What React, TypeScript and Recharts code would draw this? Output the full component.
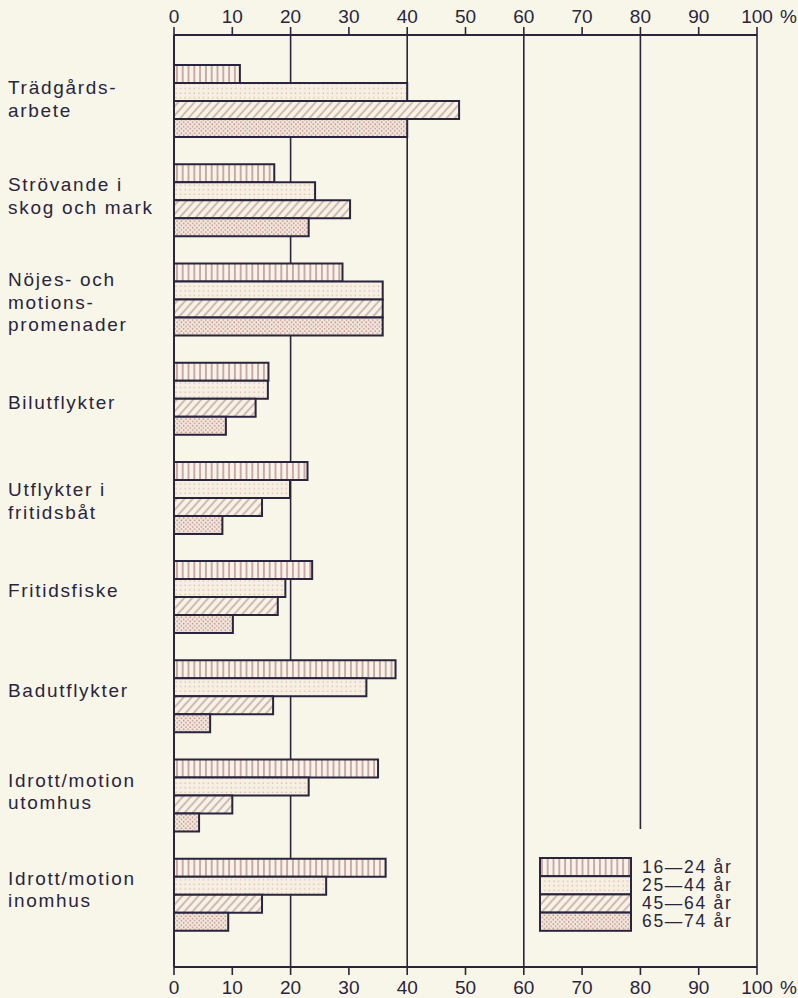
import React from "react";
import { BarChart, Bar, XAxis, YAxis, ReferenceLine, Legend } from "recharts";

const categories = [
  "Trädgårds-\narbete",
  "Strövande i\nskog och mark",
  "Nöjes- och\nmotions-\npromenader",
  "Bilutflykter",
  "Utflykter i\nfritidsbåt",
  "Fritidsfiske",
  "Badutflykter",
  "Idrott/motion\nutomhus",
  "Idrott/motion\ninomhus",
];
const age16_24 = [11.3, 17.2, 28.9, 16.2, 22.9, 23.7, 38.0, 35.0, 36.3];
const age25_44 = [40.0, 24.2, 35.8, 16.1, 19.9, 19.1, 33.0, 23.1, 26.1];
const age45_64 = [48.9, 30.2, 35.8, 14.0, 15.1, 17.8, 17.0, 10.0, 15.1];
const age65_74 = [40.0, 23.1, 35.8, 8.9, 8.3, 10.1, 6.2, 4.3, 9.3];
const seriesNames = ["16—24 år", "25—44 år", "45—64 år", "65—74 år"];
const seriesKeys = ["a", "b", "c", "d"];
const xTicks = [0, 10, 20, 30, 40, 50, 60, 70, 80, 90, 100];
const fullGridValues = [20, 40, 60, 100];
const partialGridValue = 80;

const data = categories.map((name, i) => ({
  name,
  a: age16_24[i],
  b: age25_44[i],
  c: age45_64[i],
  d: age65_74[i],
}));

const INK = "#29253d";
const BG = "#f8f6e9";
const FONT = "'Liberation Sans', Arial, Helvetica, sans-serif";
const patternIds = ["pVert", "pFine", "pDiag", "pDense"];
// small vertical nudges of the category labels (layout only)
const labelNudge = [-4, -6, 1, 2, 1, -9, -8, -6, -7];

const XTick = (props: any) => {
  const { x, y, payload, orientation } = props;
  const top = orientation === "top";
  return (
    <g>
      <text
        x={x}
        y={y}
        dy={top ? 0 : "0.72em"}
        textAnchor="middle"
        fontFamily={FONT}
        fontSize={19}
        fill={INK}
      >
        {payload.value}
      </text>
      {payload.value === 100 ? (
        <text
          x={x + 23}
          y={y}
          dy={top ? 0 : "0.72em"}
          textAnchor="start"
          fontFamily={FONT}
          fontSize={19}
          fill={INK}
        >
          %
        </text>
      ) : null}
    </g>
  );
};

const YTick = (props: any) => {
  const { y, payload, index } = props;
  const lines = String(payload.value).split("\n");
  const lh = 22.5;
  const idx = categories.indexOf(String(payload.value));
  const nudge = labelNudge[idx >= 0 ? idx : index] || 0;
  const center = y + 2 + nudge;
  const first = center - ((lines.length - 1) * lh) / 2 + 6.8;
  return (
    <g>
      {lines.map((l, i) => (
        <text
          key={i}
          x={8}
          y={first + i * lh}
          textAnchor="start"
          fontFamily={FONT}
          fontSize={19}
          fill={INK}
          style={{ letterSpacing: "1.7px" }}
        >
          {l}
        </text>
      ))}
    </g>
  );
};

const LegendBox = () => {
  const rowH = 18.2;
  return (
    <svg width={250} height={80} style={{ overflow: "visible" }}>
      {seriesNames.map((n, i) => (
        <g key={n}>
          <rect
            x={1}
            y={1 + i * rowH}
            width={91}
            height={rowH}
            fill={`url(#${patternIds[i]})`}
            stroke={INK}
            strokeWidth={2}
          />
          <text
            x={103}
            y={1 + i * rowH + 14.5}
            fontFamily={FONT}
            fontSize={17.5}
            fill={INK}
            style={{ letterSpacing: "1.7px" }}
          >
            {n}
          </text>
        </g>
      ))}
    </svg>
  );
};

const PartialLine = (p: any) => {
  const top = Math.min(p.y1, p.y2);
  const bottom = Math.max(p.y1, p.y2);
  return (
    <line
      x1={p.x1}
      x2={p.x2}
      y1={top}
      y2={top + (bottom - top) * 0.852}
      stroke={INK}
      strokeWidth={1.6}
    />
  );
};

export default function App() {
  return (
    <div
      style={{
        position: "absolute",
        left: 0,
        top: 0,
        width: 798,
        height: 998,
        background: BG,
      }}
    >
      <BarChart
        width={798}
        height={998}
        data={data}
        layout="vertical"
        margin={{ top: 0, right: 41, bottom: 0, left: 8 }}
        barCategoryGap={14}
        barGap={0}
      >
        <defs>
          <pattern id="pVert" patternUnits="userSpaceOnUse" width="5.8" height="10">
            <rect width="5.8" height="10" fill="#f7f3e6" />
            <line x1="2.9" y1="0" x2="2.9" y2="10" stroke="#a86e7c" strokeWidth="1.1" />
          </pattern>
          <pattern id="pFine" patternUnits="userSpaceOnUse" width="4.6" height="4.6">
            <rect width="4.6" height="4.6" fill="#f6efe2" />
            <circle cx="1.2" cy="1.2" r="0.65" fill="#cfaaa2" />
          </pattern>
          <pattern
            id="pDiag"
            patternUnits="userSpaceOnUse"
            width="6"
            height="10"
            patternTransform="rotate(42)"
          >
            <rect width="6" height="10" fill="#f7f2e4" />
            <line x1="3" y1="0" x2="3" y2="10" stroke="#a88286" strokeWidth="1" />
          </pattern>
          <pattern id="pDense" patternUnits="userSpaceOnUse" width="4.4" height="4.4">
            <rect width="4.4" height="4.4" fill="#f3e8dc" />
            <circle cx="1.1" cy="1.1" r="0.8" fill="#bf8c90" />
            <circle cx="3.3" cy="3.3" r="0.8" fill="#bf8c90" />
          </pattern>
        </defs>
        {fullGridValues.map((v) => (
          <ReferenceLine
            key={v}
            x={v}
            xAxisId="bottom"
            stroke={INK}
            strokeWidth={1.6}
            zIndex={-50}
          />
        ))}
        <ReferenceLine
          x={partialGridValue}
          xAxisId="bottom"
          zIndex={-50}
          shape={(p: any) => <PartialLine {...p} />}
        />
        <XAxis
          xAxisId="top"
          orientation="top"
          type="number"
          domain={[0, 100]}
          allowDataOverflow
          ticks={xTicks}
          interval={0}
          height={35}
          tickSize={8}
          tickMargin={4}
          axisLine={{ stroke: INK, strokeWidth: 2 }}
          tickLine={{ stroke: INK, strokeWidth: 1.6 }}
          tick={<XTick orientation="top" />}
        />
        <XAxis
          xAxisId="bottom"
          orientation="bottom"
          type="number"
          domain={[0, 100]}
          allowDataOverflow
          ticks={xTicks}
          interval={0}
          height={31}
          tickSize={8}
          tickMargin={5}
          axisLine={{ stroke: INK, strokeWidth: 2 }}
          tickLine={{ stroke: INK, strokeWidth: 1.6 }}
          tick={<XTick orientation="bottom" />}
        />
        <YAxis
          type="category"
          dataKey="name"
          width={166}
          interval={0}
          padding={{ top: 16, bottom: 23 }}
          axisLine={{ stroke: INK, strokeWidth: 2 }}
          tickLine={false}
          tick={<YTick />}
        />
        {seriesKeys.map((k, i) => (
          <Bar
            key={k}
            dataKey={k}
            name={seriesNames[i]}
            xAxisId="bottom"
            fill={`url(#${patternIds[i]})`}
            stroke={INK}
            strokeWidth={2}
            isAnimationActive={false}
          />
        ))}
        <Legend
          layout="vertical"
          align="center"
          verticalAlign="middle"
          content={() => <LegendBox />}
          wrapperStyle={{ left: 539, top: 857, width: 250, height: 80 }}
        />
      </BarChart>
    </div>
  );
}
